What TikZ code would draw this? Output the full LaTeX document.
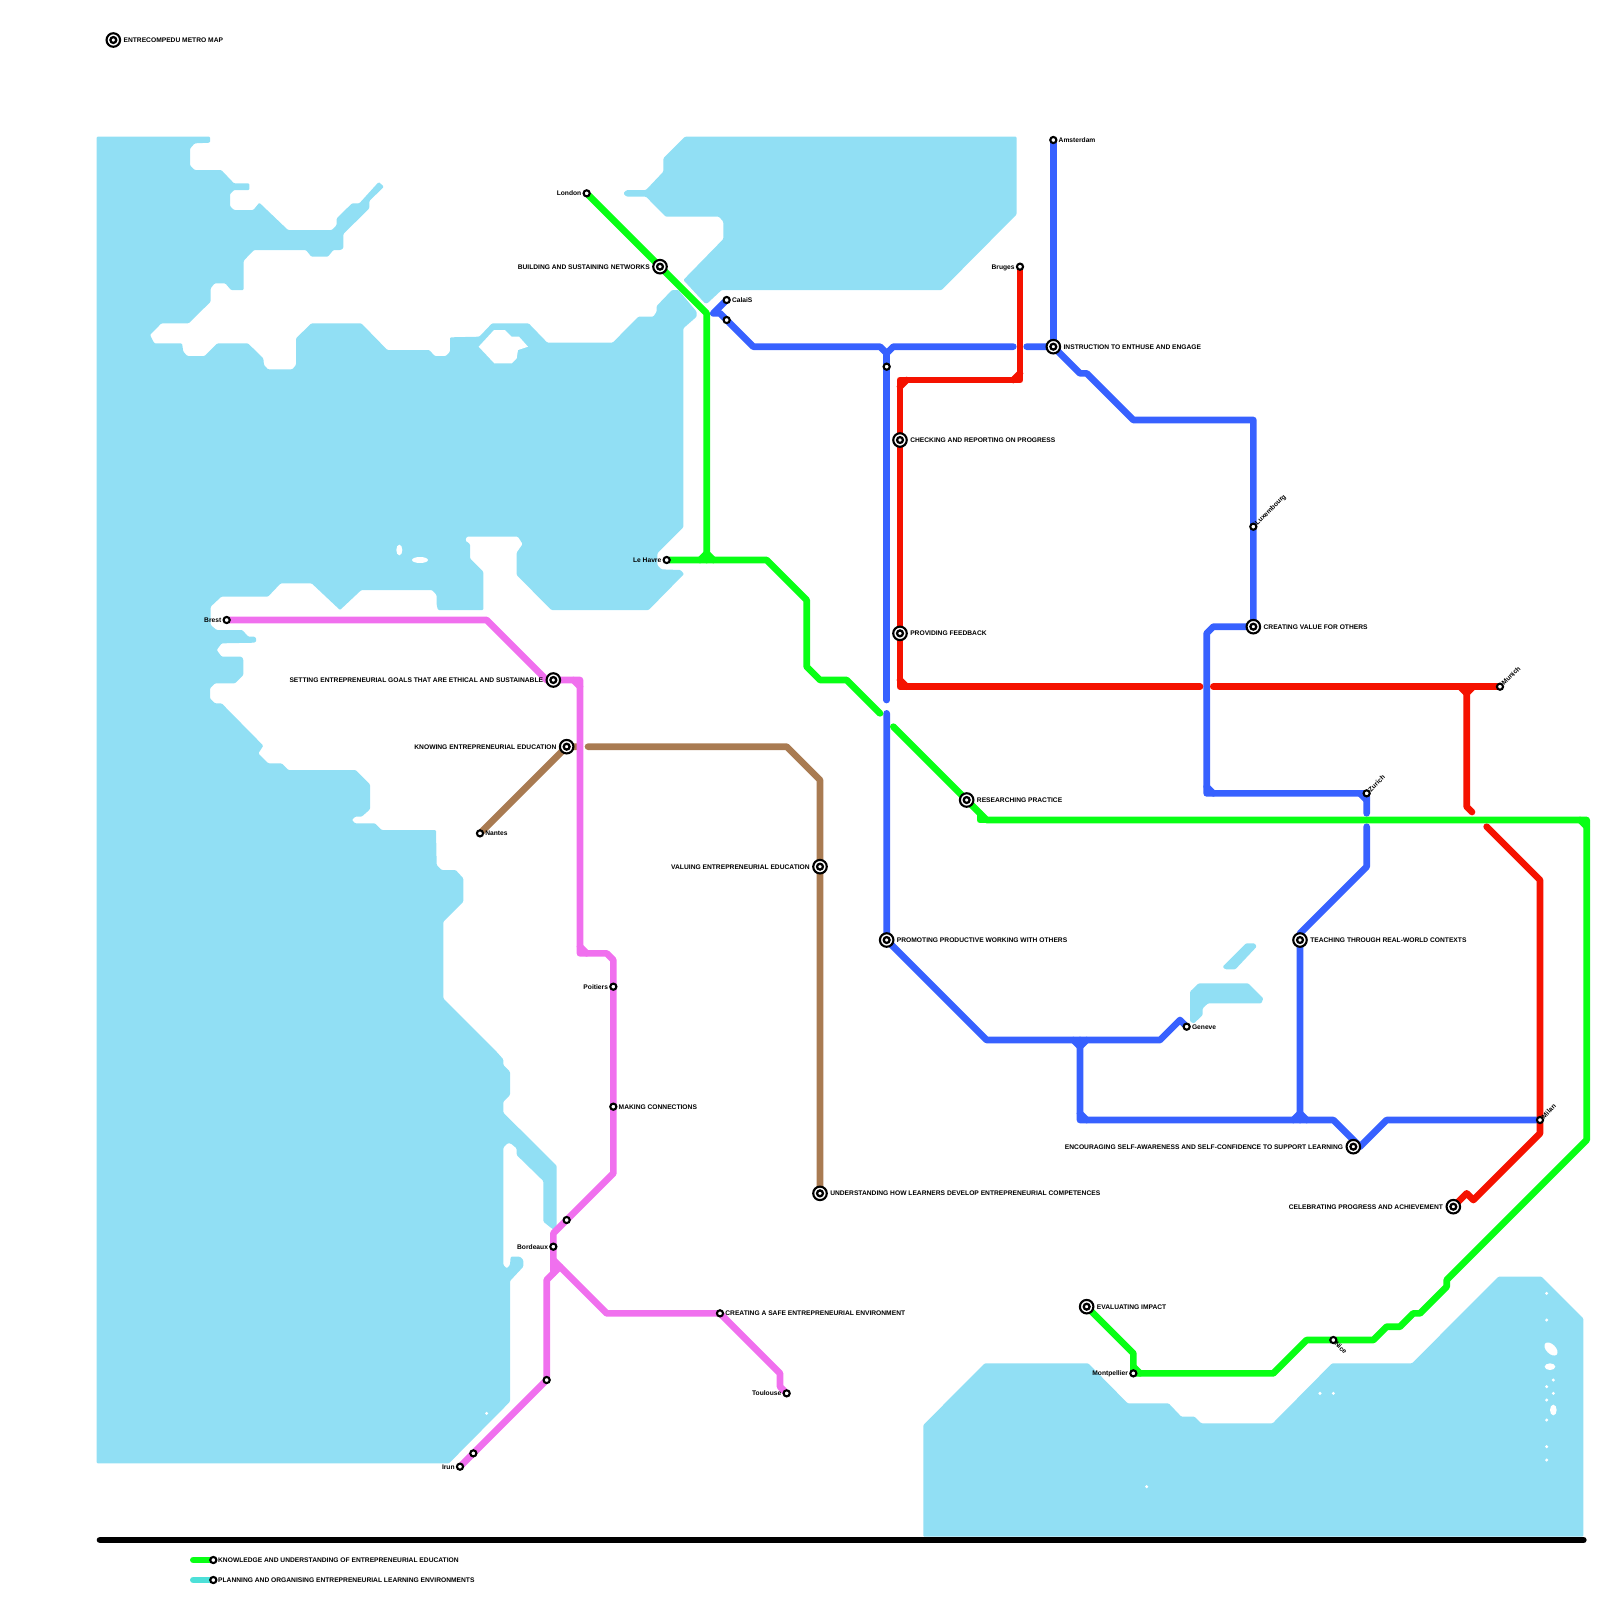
\documentclass[tikz,border=0pt]{standalone}
\usepackage{fontspec}
\setmainfont{Liberation Sans}
\usepackage{xcolor}
\usetikzlibrary{positioning,backgrounds}
\definecolor{seablue}{RGB}{145,223,244}
\definecolor{lineblue}{RGB}{55,97,255}
\definecolor{linegreen}{RGB}{8,255,20}
\definecolor{linered}{RGB}{245,18,0}
\definecolor{linepink}{RGB}{240,112,238}
\definecolor{linebrown}{RGB}{169,123,82}
\definecolor{lineteal}{RGB}{77,224,216}

\begin{document}
\begin{tikzpicture}[x=0.0666667cm,y=-0.0666667cm,
  sea/.style={fill=seablue,rounded corners=0.3pt},
  hole/.style={fill=white},
  metro/.style={line width=1.897pt,line cap=round,line join=round},
  greenline/.style={metro,draw=linegreen},
  blueline/.style={metro,draw=lineblue},
  redline/.style={metro,draw=linered},
  pinkline/.style={metro,draw=linepink},
  brownline/.style={metro,draw=linebrown},
  tealline/.style={metro,draw=lineteal},
  stn/.style={circle,draw=black,fill=white,line width=0.6pt,minimum size=1.75pt,inner sep=0pt,outer sep=0pt},
  hub/.style={circle,draw=black,fill=white,line width=0.6pt,minimum size=3.85pt,inner sep=0pt,outer sep=0pt,
    path picture={\draw[black,line width=0.65pt] (path picture bounding box.center) circle (0.44);}},
  lab/.style={inner sep=0pt,text height=1.4pt,text depth=0pt,font=\fontsize{1.9}{2.3}\selectfont\bfseries}]
\useasboundingbox (0,0) rectangle (240,240);
% stations and their labels
\node[hub] (title) at (17,6) {};
\node[lab,right=0.8pt of title] (titlelab) {ENTRECOMPEDU METRO MAP};
\node[stn] (amsterdam) at (158,21) {};
\node[lab,right=0.45pt of amsterdam] (amsterdamlab) {Amsterdam};
\node[stn] (bruges) at (153,40) {};
\node[lab,left=0.45pt of bruges] (brugeslab) {Bruges};
\node[stn] (calais) at (109,45) {};
\node[lab,right=0.45pt of calais] (calaislab) {CalaiS};
\node[stn] (calaisb) at (109,48) {};
\node[stn] (london) at (88,29) {};
\node[lab,left=0.45pt of london] (londonlab) {London};
\node[hub] (networks) at (99,40) {};
\node[lab,left=0.8pt of networks] (networkslab) {BUILDING AND SUSTAINING NETWORKS};
\node[hub] (instruction) at (158,52) {};
\node[lab,right=0.8pt of instruction] (instructionlab) {INSTRUCTION TO ENTHUSE AND ENGAGE};
\node[stn] (northstop) at (133,55) {};
\node[hub] (checking) at (135,66) {};
\node[lab,right=0.8pt of checking] (checkinglab) {CHECKING AND REPORTING ON PROGRESS};
\node[hub] (providing) at (135,95) {};
\node[lab,right=0.8pt of providing] (providinglab) {PROVIDING FEEDBACK};
\node[stn] (luxembourg) at (188,79) {};
\node[lab,rotate=45,anchor=west] (luxembourglab) at (luxembourg.north east) {Luxembourg};
\node[hub] (creating) at (188,94) {};
\node[lab,right=0.8pt of creating] (creatinglab) {CREATING VALUE FOR OTHERS};
\node[stn] (lehavre) at (100,84) {};
\node[lab,left=0.45pt of lehavre] (lehavrelab) {Le Havre};
\node[stn] (brest) at (34,93) {};
\node[lab,left=0.45pt of brest] (brestlab) {Brest};
\node[hub] (setting) at (83,102) {};
\node[lab,left=0.8pt of setting] (settinglab) {SETTING ENTREPRENEURIAL GOALS THAT ARE ETHICAL AND SUSTAINABLE};
\node[hub] (knowing) at (85,112) {};
\node[lab,left=0.8pt of knowing] (knowinglab) {KNOWING ENTREPRENEURIAL EDUCATION};
\node[stn] (nantes) at (72,125) {};
\node[lab,right=0.45pt of nantes] (nanteslab) {Nantes};
\node[stn] (poitiers) at (92,148) {};
\node[lab,left=0.45pt of poitiers] (poitierslab) {Poitiers};
\node[stn] (making) at (92,166) {};
\node[lab,right=0.45pt of making] (makinglab) {MAKING CONNECTIONS};
\node[hub] (valuing) at (123,130) {};
\node[lab,left=0.8pt of valuing] (valuinglab) {VALUING ENTREPRENEURIAL EDUCATION};
\node[hub] (understanding) at (123,179) {};
\node[lab,right=0.8pt of understanding] (understandinglab) {UNDERSTANDING HOW LEARNERS DEVELOP ENTREPRENEURIAL COMPETENCES};
\node[hub] (researching) at (145,120) {};
\node[lab,right=0.8pt of researching] (researchinglab) {RESEARCHING PRACTICE};
\node[hub] (promoting) at (133,141) {};
\node[lab,right=0.8pt of promoting] (promotinglab) {PROMOTING PRODUCTIVE WORKING WITH OTHERS};
\node[hub] (teaching) at (195,141) {};
\node[lab,right=0.8pt of teaching] (teachinglab) {TEACHING THROUGH REAL-WORLD CONTEXTS};
\node[stn] (geneve) at (178,154) {};
\node[lab,right=0.45pt of geneve] (genevelab) {Geneve};
\node[hub] (encouraging) at (203,172) {};
\node[lab,left=0.8pt of encouraging] (encouraginglab) {ENCOURAGING SELF-AWARENESS AND SELF-CONFIDENCE TO SUPPORT LEARNING};
\node[stn] (zurich) at (205,119) {};
\node[lab,rotate=45,anchor=west] (zurichlab) at (zurich.north east) {Zurich};
\node[stn] (munich) at (225,103) {};
\node[lab,rotate=45,anchor=west] (munichlab) at (munich.north east) {Munich};
\node[stn] (milan) at (231,168) {};
\node[lab,rotate=45,anchor=west] (milanlab) at (milan.north east) {Milan};
\node[hub] (celebrating) at (218,181) {};
\node[lab,left=0.8pt of celebrating] (celebratinglab) {CELEBRATING PROGRESS AND ACHIEVEMENT};
\node[hub] (evaluating) at (163,196) {};
\node[lab,right=0.8pt of evaluating] (evaluatinglab) {EVALUATING IMPACT};
\node[stn] (montpellier) at (170,206) {};
\node[lab,left=0.45pt of montpellier] (montpellierlab) {Montpellier};
\node[stn] (nice) at (200,201) {};
\node[lab,rotate=-45,anchor=west] (nicelab) at (nice.south east) {Nice};
\node[stn] (coaststop) at (85,183) {};
\node[stn] (bordeaux) at (83,187) {};
\node[lab,left=0.45pt of bordeaux] (bordeauxlab) {Bordeaux};
\node[stn] (safe) at (108,197) {};
\node[lab,right=0.45pt of safe] (safelab) {CREATING A SAFE ENTREPRENEURIAL ENVIRONMENT};
\node[stn] (toulouse) at (118,209) {};
\node[lab,left=0.45pt of toulouse] (toulouselab) {Toulouse};
\node[stn] (landes) at (82,207) {};
\node[stn] (biarritz) at (71,218) {};
\node[stn] (irun) at (69,220) {};
\node[lab,left=0.45pt of irun] (irunlab) {Irun};
\node[stn] (keyknow) at (32,234) {};
\node[lab,right=0.3pt of keyknow] (keyknowlab) {KNOWLEDGE AND UNDERSTANDING OF ENTREPRENEURIAL EDUCATION};
\node[stn] (keyplan) at (32,237) {};
\node[lab,right=0.3pt of keyplan] (keyplanlab) {PLANNING AND ORGANISING ENTREPRENEURIAL LEARNING ENVIRONMENTS};
\coordinate (keyknowend) at (29,234);
\coordinate (keyplanend) at (29,237);
\coordinate (rulewest) at (15,231);
\coordinate (ruleeast) at (237.5,231);
\begin{scope}[on background layer]
% west sea
\fill[sea] (14.5,20.5) -- (31.5,20.5) -- (31.5,21.4) -- (29.2,21.5) -- (28.5,22.3) -- (28.5,24.8) -- (29.2,25.5) -- (33.2,25.5) -- (35.1,27.5) -- (37.4,27.5) -- (37.4,28.5) -- (35.1,28.5) -- (34.5,29.1) -- (34.5,30.9) -- (35.1,31.5) -- (38,31.5) -- (38.9,30.4) -- (43.2,34.5) -- (49.8,34.5) -- (50.5,33.75) -- (50.5,32.75) -- (52.8,30.5) -- (53.9,30.5) -- (56.8,27.3) -- (57.6,28) -- (55.4,30.15) -- (55.4,31.25) -- (51.5,35.1) -- (51.5,37.25) -- (51.1,37.5) -- (50,37.5) -- (49.2,38.5) -- (46.7,38.5) -- (45.9,37.5) -- (38.1,37.5) -- (36.55,39.1) -- (36.55,43.5) -- (34.65,43.5) -- (33.8,42.5) -- (32.2,42.5) -- (31.6,43.25) -- (31.6,45.25) -- (28.3,48.5) -- (24.2,48.5) -- (22.5,50.25) -- (23.15,51.5) -- (27.3,51.5) -- (27.5,52.75) -- (28.1,53.4) -- (30.7,53.4) -- (32.6,51.5) -- (37.2,51.5) -- (39.5,53.75) -- (39.6,54.75) -- (40.2,55.4) -- (43.85,55.4) -- (44.4,54.75) -- (44.4,50.75) -- (46.7,48.5) -- (54.2,48.5) -- (58.1,52.5) -- (64.4,52.5) -- (65.2,53.4) -- (66.9,53.4) -- (67.5,52.75) -- (67.5,50.6) -- (71.9,50.5) -- (73.8,48.5) -- (79.3,48.5) -- (82.1,51.4) -- (91.9,51.4) -- (95.75,47.5) -- (98,47.5) -- (98.5,46.75) -- (98.5,45.9) -- (100.8,43.5) -- (101.75,43.5) -- (104.5,46.75) -- (104.5,47.5) -- (102.5,49.25) -- (102.5,79.1) -- (98.6,83) -- (98.6,84.75) -- (99.2,85.4) -- (102.1,85.5) -- (102.6,86.1) -- (97.3,91.5) -- (82.7,91.5) -- (77.5,86.25) -- (77.5,82.9) -- (78.4,81.6) -- (77.7,80.5) -- (70,80.5) -- (69.8,81.1) -- (70.5,81.6) -- (70.5,83.75) -- (72.5,85.75) -- (72.5,91.5) -- (65.7,91.5) -- (65.5,90.75) -- (65.5,89.25) -- (64.8,88.5) -- (54.2,88.5) -- (51,91.5) -- (46.75,87.5) -- (42.1,87.5) -- (40.2,89.5) -- (33.2,89.5) -- (31.6,91) -- (31.6,93.75) -- (32.5,94.5) -- (36.35,94.5) -- (37.25,95.5) -- (38.25,95.5) -- (38.5,96) -- (38.25,96.4) -- (33.25,96.5) -- (32.5,97.5) -- (33.25,98.5) -- (36.25,98.5) -- (36.5,98.9) -- (36.5,101.25) -- (35.25,102.5) -- (32.25,102.5) -- (31.5,103.25) -- (31.5,104.75) -- (32.25,105.5) -- (33.25,105.5) -- (39.5,111.85) -- (38.75,113) -- (40.25,114.5) -- (42.25,114.5) -- (43.25,115.5) -- (53.35,115.5) -- (55.5,117.65) -- (55.5,121.4) -- (54.25,122.5) -- (53.25,122.5) -- (52.8,123) -- (53.25,123.5) -- (56.25,123.5) -- (57.25,124.5) -- (65.4,124.5) -- (65.5,129.75) -- (66.25,130.5) -- (68.35,130.5) -- (69.5,131.75) -- (69.5,135.25) -- (66.5,138.25) -- (66.5,149.75) -- (74.25,157.5) -- (75.5,158.9) -- (75.5,159.75) -- (76.5,160.75) -- (76.5,164.25) -- (75.5,165.25) -- (75.5,166.9) -- (83.5,174.85) -- (83.5,184) -- (83.25,184.5) -- (82.75,184.25) -- (81.5,183.25) -- (81.5,177.15) -- (77.5,173.25) -- (77.5,172.25) -- (76.6,171.5) -- (76.1,171.5) -- (75.5,172.15) -- (75.5,189.75) -- (76,190.25) -- (76.5,189.75) -- (76.6,188.5) -- (78,188.5) -- (78.5,189) -- (78.5,190) -- (76.5,192.15) -- (76.5,210.25) -- (67.35,219.5) -- (14.5,219.5) -- cycle;
\fill[hole] (71.8,52) -- (74.1,49.5) -- (75.75,49.5) -- (76.75,50.5) -- (77.85,50.5) -- (79.2,52) -- (77.7,52.5) -- (77.5,53.75) -- (76.75,54.5) -- (74.15,54.5) -- cycle;
\fill[hole] (59.9,82.5) ellipse [x radius=0.45,y radius=0.8];
\fill[hole] (63,84) ellipse [x radius=1.2,y radius=0.45];
\fill[hole] (73,212) circle (0.25);
% north sea
\fill[sea] (102.75,20.5) -- (152.5,20.5) -- (152.5,32.15) -- (141.25,43.5) -- (108.25,43.5) -- (106.1,45.5) -- (105.75,45.5) -- (102.5,42) -- (108.5,35.85) -- (108.5,33.25) -- (107.85,32.5) -- (99.85,32.5) -- (96.9,29.5) -- (94,29.5) -- (93.5,29) -- (94,28.5) -- (96.9,28.5) -- (99.5,25.75) -- (99.5,23.75) -- cycle;
% south sea
\fill[sea] (138.5,213.75) -- (147.7,204.5) -- (163.25,204.5) -- (169.15,210.5) -- (175.3,210.5) -- (177.2,212.5) -- (179.2,212.5) -- (180.2,213.5) -- (190.9,213.5) -- (199.8,204.5) -- (211.8,204.5) -- (224.75,191.5) -- (231.25,191.5) -- (237.5,197.75) -- (237.5,230.5) -- (138.5,230.5) -- cycle;
\fill[hole] (172,223) circle (0.25) (198,209) circle (0.25) (200,209) circle (0.25) (232,194) circle (0.25) (232,198) circle (0.25) (233,207) circle (0.25) (232,208) circle (0.25) (233,209) circle (0.25) (232,210) circle (0.25) (232,213) circle (0.25) (232,217) circle (0.25) (232,219) circle (0.25);
\fill[hole,rotate around={-45:(232.65,202.35)}] (232.65,202.35) ellipse [x radius=1.2,y radius=0.7];
\fill[hole] (232.5,205) ellipse [x radius=0.8,y radius=0.5];
\fill[hole] (233,211.5) ellipse [x radius=0.5,y radius=0.8];
% lakes
\fill[sea] (183.4,145) -- (186.9,141.5) -- (188.2,141.5) -- (188.5,142) -- (185.3,145.4) -- (183.8,145.4) -- cycle;
\fill[sea] (178.5,148.75) -- (179.8,147.5) -- (187.25,147.5) -- (189.5,149.75) -- (189.2,150.5) -- (181.2,150.5) -- (180.4,151.25) -- (180.4,152.25) -- (179.1,153.5) -- (178.5,153.25) -- cycle;
% brown line
\draw[brownline] (nantes) -- (knowing) -- (86.5,112);
\draw[brownline] (88.2,112) -- (118,112) -- (123,117) -- (valuing) -- (understanding);
% pink line
\draw[pinkline] (brest) -- (73,93) -- (82,102) -- (87,102) -- (87,143) -- (91,143) -- (92,144) -- (poitiers) -- (making) -- (92,176) -- (coaststop) -- (83,185) -- (bordeaux) -- (83,191) -- (82,192) -- (landes) -- (biarritz) -- (irun);
\draw[pinkline] (83,189) -- (91,197) -- (safe) -- (117,206) -- (117,208) -- (toulouse);
\draw[pinkline] (86,102) -- (87,103);
\draw[pinkline] (87,142) -- (88,143);
\draw[pinkline] (84,190) -- (83,191);
% blue line
\draw[blueline] (amsterdam) -- (instruction);
\draw[blueline] (calais) -- (107,47) -- (108,47) -- (calaisb) -- (113,52) -- (132,52) -- (133,53) -- (134,52) -- (152,52);
\draw[blueline] (154,52) -- (instruction) -- (162,56) -- (163,56) -- (170,63) -- (188,63) -- (luxembourg) -- (creating) -- (182,94) -- (181,95) -- (181,119) -- (zurich) -- (205,122);
\draw[blueline] (133,53) -- (northstop) -- (133,105);
\draw[blueline] (133,107) -- (promoting) -- (148,156) -- (174,156) -- (177,153) -- (geneve);
\draw[blueline] (205,124) -- (205,130) -- (195,140) -- (teaching) -- (195,168);
\draw[blueline] (161,156) -- (162,157) -- (163,156);
\draw[blueline] (162,156) -- (162,168) -- (200,168) -- (204,172) -- (208,168) -- (milan);
\draw[blueline] (194,168) -- (195,167) -- (196,168);
\draw[blueline] (162,167) -- (163,168);
\draw[blueline] (181,118) -- (182,119);
\draw[blueline] (204,119) -- (205,120);
% red line
\draw[redline] (bruges) -- (153,57) -- (135,57) -- (checking) -- (providing) -- (135,103) -- (180,103);
\draw[redline] (182,103) -- (munich);
\draw[redline] (152,57) -- (153,56);
\draw[redline] (135,58) -- (136,57);
\draw[redline] (135,102) -- (136,103);
\draw[redline] (219,103) -- (220,104) -- (221,103);
\draw[redline] (220,103) -- (220,121) -- (220.8,121.8);
\draw[redline] (223,124) -- (231,132) -- (milan) -- (231,170) -- (221,180) -- (220,179) -- (celebrating);
% green line
\draw[greenline] (london) -- (networks) -- (106,47) -- (106,84);
\draw[greenline] (105,84) -- (106,83) -- (107,84);
\draw[greenline] (lehavre) -- (115,84) -- (121,90) -- (121,100) -- (123,102) -- (127,102) -- (132,107);
\draw[greenline] (134,109) -- (researching) -- (148,123) -- (238,123) -- (238,171) -- (217,192) -- (217,193) -- (213,197) -- (212,197) -- (210,199) -- (208,199) -- (206,201) -- (nice) -- (196,201) -- (191,206) -- (montpellier);
\draw[greenline] (147,122) -- (147,123) -- (148,123);
\draw[greenline] (237,123) -- (238,124);
\draw[greenline] (evaluating) -- (170,203) -- (170,205) -- (montpellier);
\draw[greenline] (170,205) -- (171,206);
% key and base rule
\draw[greenline] (keyknowend) -- (keyknow);
\draw[tealline] (keyplanend) -- (keyplan);
\draw[metro,draw=black] (rulewest) -- (ruleeast);
\end{scope}
\end{tikzpicture}
\end{document}
